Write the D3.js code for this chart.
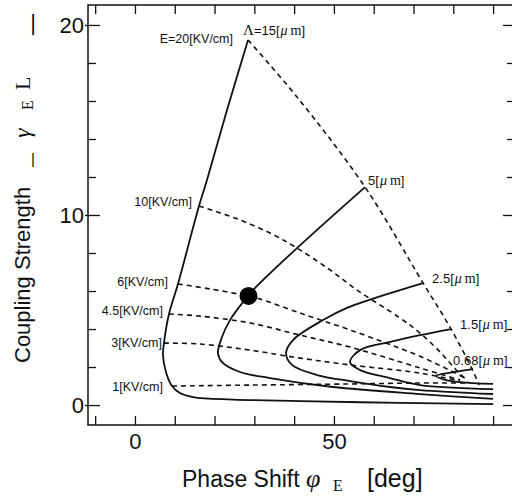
<!DOCTYPE html>
<html>
<head>
<meta charset="utf-8">
<script src="https://cdn.jsdelivr.net/npm/d3@7"></script>
<style>
  html, body { margin: 0; padding: 0; background: #fff; overflow: hidden; }
  svg { display: block; }
  text { font-family: "Liberation Sans", Arial, sans-serif; fill: #111; }
</style>
</head>
<body>
<div id="chart"></div>
<script>
// grating period curves (solid), points are [phase shift deg, coupling strength]
const lambdaLabels = ["\u039B=15", "5", "2.5", "1.5", "0.68"];
const lambda15 = [[28.41,19.21],[23.1,15.5],[18.1,11.84],[16.09,10.47],[10.81,6.37],[8.55,4.79],[7.29,3.26],[7.04,2.63],[7.79,1.74],[9.3,1.0],[11.31,0.63],[14.58,0.42],[24.64,0.29],[41.48,0.21],[66.62,0.11],[90,0.05]];
const lambda5 = [[57.82,11.47],[40.72,8.26],[29.66,6.05],[28.16,5.68],[23.88,4.47],[21.87,3.58],[20.86,2.74],[21.87,2.26],[26.4,1.74],[33.94,1.42],[49.77,0.95],[71.64,0.58],[90,0.32]];
const lambda25 = [[72.4,6.42],[66.62,6.05],[53.29,5.11],[47.26,4.47],[39.72,3.42],[37.96,2.74],[39.47,2.11],[45.75,1.58],[54.05,1.26],[64.1,0.95],[71.64,0.79],[90,0.58]];
const lambda15b = [[79.44,4.0],[71.64,3.68],[64.1,3.32],[56.56,2.89],[54.05,2.26],[56.56,1.84],[64.1,1.42],[71.64,1.05],[90,0.84]];
const lambda068 = [[84.97,1.89],[80.44,1.74],[75.67,1.53],[77.93,1.32],[81.7,1.21],[90,1.11]];

// field strength curves (dashed)
const fieldLabels = ["E=20[KV/cm]", "10[KV/cm]", "6[KV/cm]", "4.5[KV/cm]", "3[KV/cm]", "1[KV/cm]"];
const field20 = [[28.41,19.21],[40.71,16.21],[57.82,11.47],[72.4,6.42],[79.44,4.0],[84.72,1.89],[86.48,1.05]];
const field10 = [[16.09,10.47],[25.14,9.84],[33.94,9.05],[40.72,8.26],[49.02,7.11],[55.81,6.05],[66.62,4.58],[71.64,3.79],[76.67,2.79],[81.2,1.74],[83.71,1.26]];
const field6 = [[10.81,6.37],[18.85,6.11],[28.41,5.74],[31.42,5.58],[41.48,4.84],[54.05,3.95],[70.89,2.63],[77.93,1.95],[82.96,1.42]];
const field45 = [[8.55,4.79],[16.34,4.68],[28.91,4.32],[41.48,3.68],[54.05,3.05],[71.64,1.95],[81.7,1.32]];
const field3 = [[7.29,3.26],[16.34,3.21],[28.91,2.89],[41.48,2.47],[54.05,2.11],[71.64,1.68],[81.7,1.26]];
const field1 = [[9.3,1.0],[28.91,1.05],[54.05,1.11],[71.64,1.16],[82.96,1.16]];

const operatingPoint = [28.53, 5.74];

const xTicks = [-10, 0, 10, 20, 30, 40, 50, 60, 70, 80, 90];
const xLabels = [0, 50];
const yTicks = [0, 2, 4, 6, 8, 10, 12, 14, 16, 18, 20];
const yLabels = [0, 10, 20];

const width = 512;
const height = 496;
const frame = {left: 88, right: 515, top: 5, bottom: 425};

const lambdaCurves = [lambda15, lambda5, lambda25, lambda15b, lambda068];
const fieldCurves = [field20, field10, field6, field45, field3, field1];

// label nudges in pixels (from curve end / start)
const lambdaOffsets = [[-5,-5],[3,-2],[9,0],[9,0],[-20,-4]];
const fieldOffsets = [[-15,3],[-7,0],[-10,2],[-6,1],[-2,4],[-9,5]];

const svg = d3.select("#chart").append("svg")
  .attr("width", width)
  .attr("height", height);

const x = d3.scaleLinear().domain([-11.8, 95.5]).range([frame.left, frame.right]);
const y = d3.scaleLinear().domain([-1.05, 21.05]).range([frame.bottom, frame.top]);

// Frame
svg.append("rect")
  .attr("x", frame.left).attr("y", frame.top)
  .attr("width", frame.right - frame.left).attr("height", frame.bottom - frame.top)
  .attr("fill", "none").attr("stroke", "#111").attr("stroke-width", 1.5);

// X Axis (bottom + top)
const xAxis = svg.append("g")
  .attr("transform", "translate(0," + frame.bottom + ")")
  .call(d3.axisBottom(x).tickValues(xTicks).tickSize(-9).tickPadding(8)
    .tickFormat(d => xLabels.includes(d) ? d : ""));
svg.append("g")
  .attr("transform", "translate(0," + frame.top + ")")
  .call(d3.axisTop(x).tickValues(xTicks).tickSize(-9).tickFormat(""));

// Y Axis (left + right)
svg.append("g")
  .attr("transform", "translate(" + frame.left + ",0)")
  .call(d3.axisLeft(y).tickValues(yTicks.filter(d => !yLabels.includes(d))).tickSize(-8).tickFormat(""));
const yAxis = svg.append("g")
  .attr("transform", "translate(" + frame.left + ",0)")
  .call(d3.axisLeft(y).tickValues(yLabels).tickSize(-12).tickPadding(4));
svg.append("g")
  .attr("transform", "translate(" + frame.left + ",0)")
  .call(d3.axisLeft(y).tickValues(yLabels).tickSize(3).tickFormat(""));
svg.append("g")
  .attr("transform", "translate(" + frame.right + ",0)")
  .call(d3.axisRight(y).tickValues(yTicks.filter(d => !yLabels.includes(d))).tickSize(-8).tickFormat(""));
svg.append("g")
  .attr("transform", "translate(" + frame.right + ",0)")
  .call(d3.axisRight(y).tickValues(yLabels).tickSize(-12).tickFormat(""));

svg.selectAll(".domain").remove();
svg.selectAll(".tick line").attr("stroke", "#111").attr("stroke-width", 1.3);
xAxis.selectAll("text").attr("font-size", 22).attr("font-family", "Liberation Sans, Arial, sans-serif").attr("fill", "#111");
yAxis.selectAll("text").attr("font-size", 22).attr("font-family", "Liberation Sans, Arial, sans-serif").attr("fill", "#111");

const line = d3.line()
  .x(d => x(d[0]))
  .y(d => y(d[1]))
  .curve(d3.curveCatmullRom.alpha(0.5));

// Field lines
svg.append("g")
  .selectAll("path")
  .data(fieldCurves).enter()
  .append("path")
  .attr("d", line)
  .attr("fill", "none")
  .attr("stroke", "#111")
  .attr("stroke-width", 1.6)
  .attr("stroke-dasharray", "5,4");

// Grating period lines
svg.append("g")
  .selectAll("path")
  .data(lambdaCurves).enter()
  .append("path")
  .attr("d", line)
  .attr("fill", "none")
  .attr("stroke", "#111")
  .attr("stroke-width", 1.8);

// Dot
svg.append("circle")
  .attr("cx", x(operatingPoint[0]))
  .attr("cy", y(operatingPoint[1]))
  .attr("r", 9)
  .attr("fill", "#000");

// Field labels
svg.append("g")
  .selectAll("text")
  .data(fieldCurves).enter()
  .append("text")
  .attr("x", (d, i) => x(d[0][0]) + fieldOffsets[i][0])
  .attr("y", (d, i) => y(d[0][1]) + fieldOffsets[i][1])
  .attr("text-anchor", "end")
  .attr("font-size", 12.5)
  .text((d, i) => fieldLabels[i]);

// Lambda labels
const lamText = svg.append("g")
  .selectAll("text")
  .data(lambdaCurves).enter()
  .append("text")
  .attr("x", (d, i) => x(d[0][0]) + lambdaOffsets[i][0])
  .attr("y", (d, i) => y(d[0][1]) + lambdaOffsets[i][1])
  .attr("font-size", 13);
lamText.each(function (d, i) {
  const t = d3.select(this);
  const name = lambdaLabels[i];
  if (name.startsWith("\u039B")) {
    t.append("tspan").attr("font-family", "Liberation Serif, serif").attr("font-size", 15).text("\u039B");
    t.append("tspan").text(name.slice(1) + "[");
  } else {
    t.append("tspan").text(name + "[");
  }
  t.append("tspan").attr("font-family", "Liberation Serif, serif").attr("font-style", "italic").attr("font-size", 14).attr("dx", 1).text("\u03BC");
  t.append("tspan").attr("font-family", "Liberation Serif, serif").attr("font-size", 14).attr("dx", 3).text("m");
  t.append("tspan").text("]");
});

// X title
const xt = svg.append("text")
  .attr("y", 487)
  .attr("font-size", 23);
xt.append("tspan").attr("x", 182).text("Phase Shift");
xt.append("tspan").attr("x", 306).attr("font-family", "Liberation Serif, serif").attr("font-style", "italic").attr("font-size", 26).text("\u03C6");
xt.append("tspan").attr("x", 333).attr("dy", 4).attr("font-family", "Liberation Serif, serif").attr("font-size", 16).text("E");
xt.append("tspan").attr("x", 367).attr("dy", -4).attr("font-size", 25).text("[deg]");

// Y title
const yt = svg.append("text")
  .attr("transform", "translate(30,363) rotate(-90)")
  .attr("font-size", 22);
yt.append("tspan").attr("x", 0).text("Coupling Strength");
yt.append("tspan").attr("x", 225).attr("font-family", "Liberation Serif, serif").attr("font-style", "italic").attr("font-size", 24).text("\u03B3");
yt.append("tspan").attr("x", 253).attr("dy", 3).attr("font-family", "Liberation Serif, serif").attr("font-size", 16).text("E");
yt.append("tspan").attr("x", 273).attr("dy", -3).attr("font-family", "Liberation Serif, serif").attr("font-size", 22).text("L");

// the |...| bars of the title stand upright in the original
svg.append("text").attr("x", 33).attr("y", 164).attr("text-anchor", "middle").attr("font-size", 15).text("|");
svg.append("text").attr("x", 33).attr("y", 30).attr("text-anchor", "middle").attr("font-size", 22).text("|");
</script>
</body>
</html>
